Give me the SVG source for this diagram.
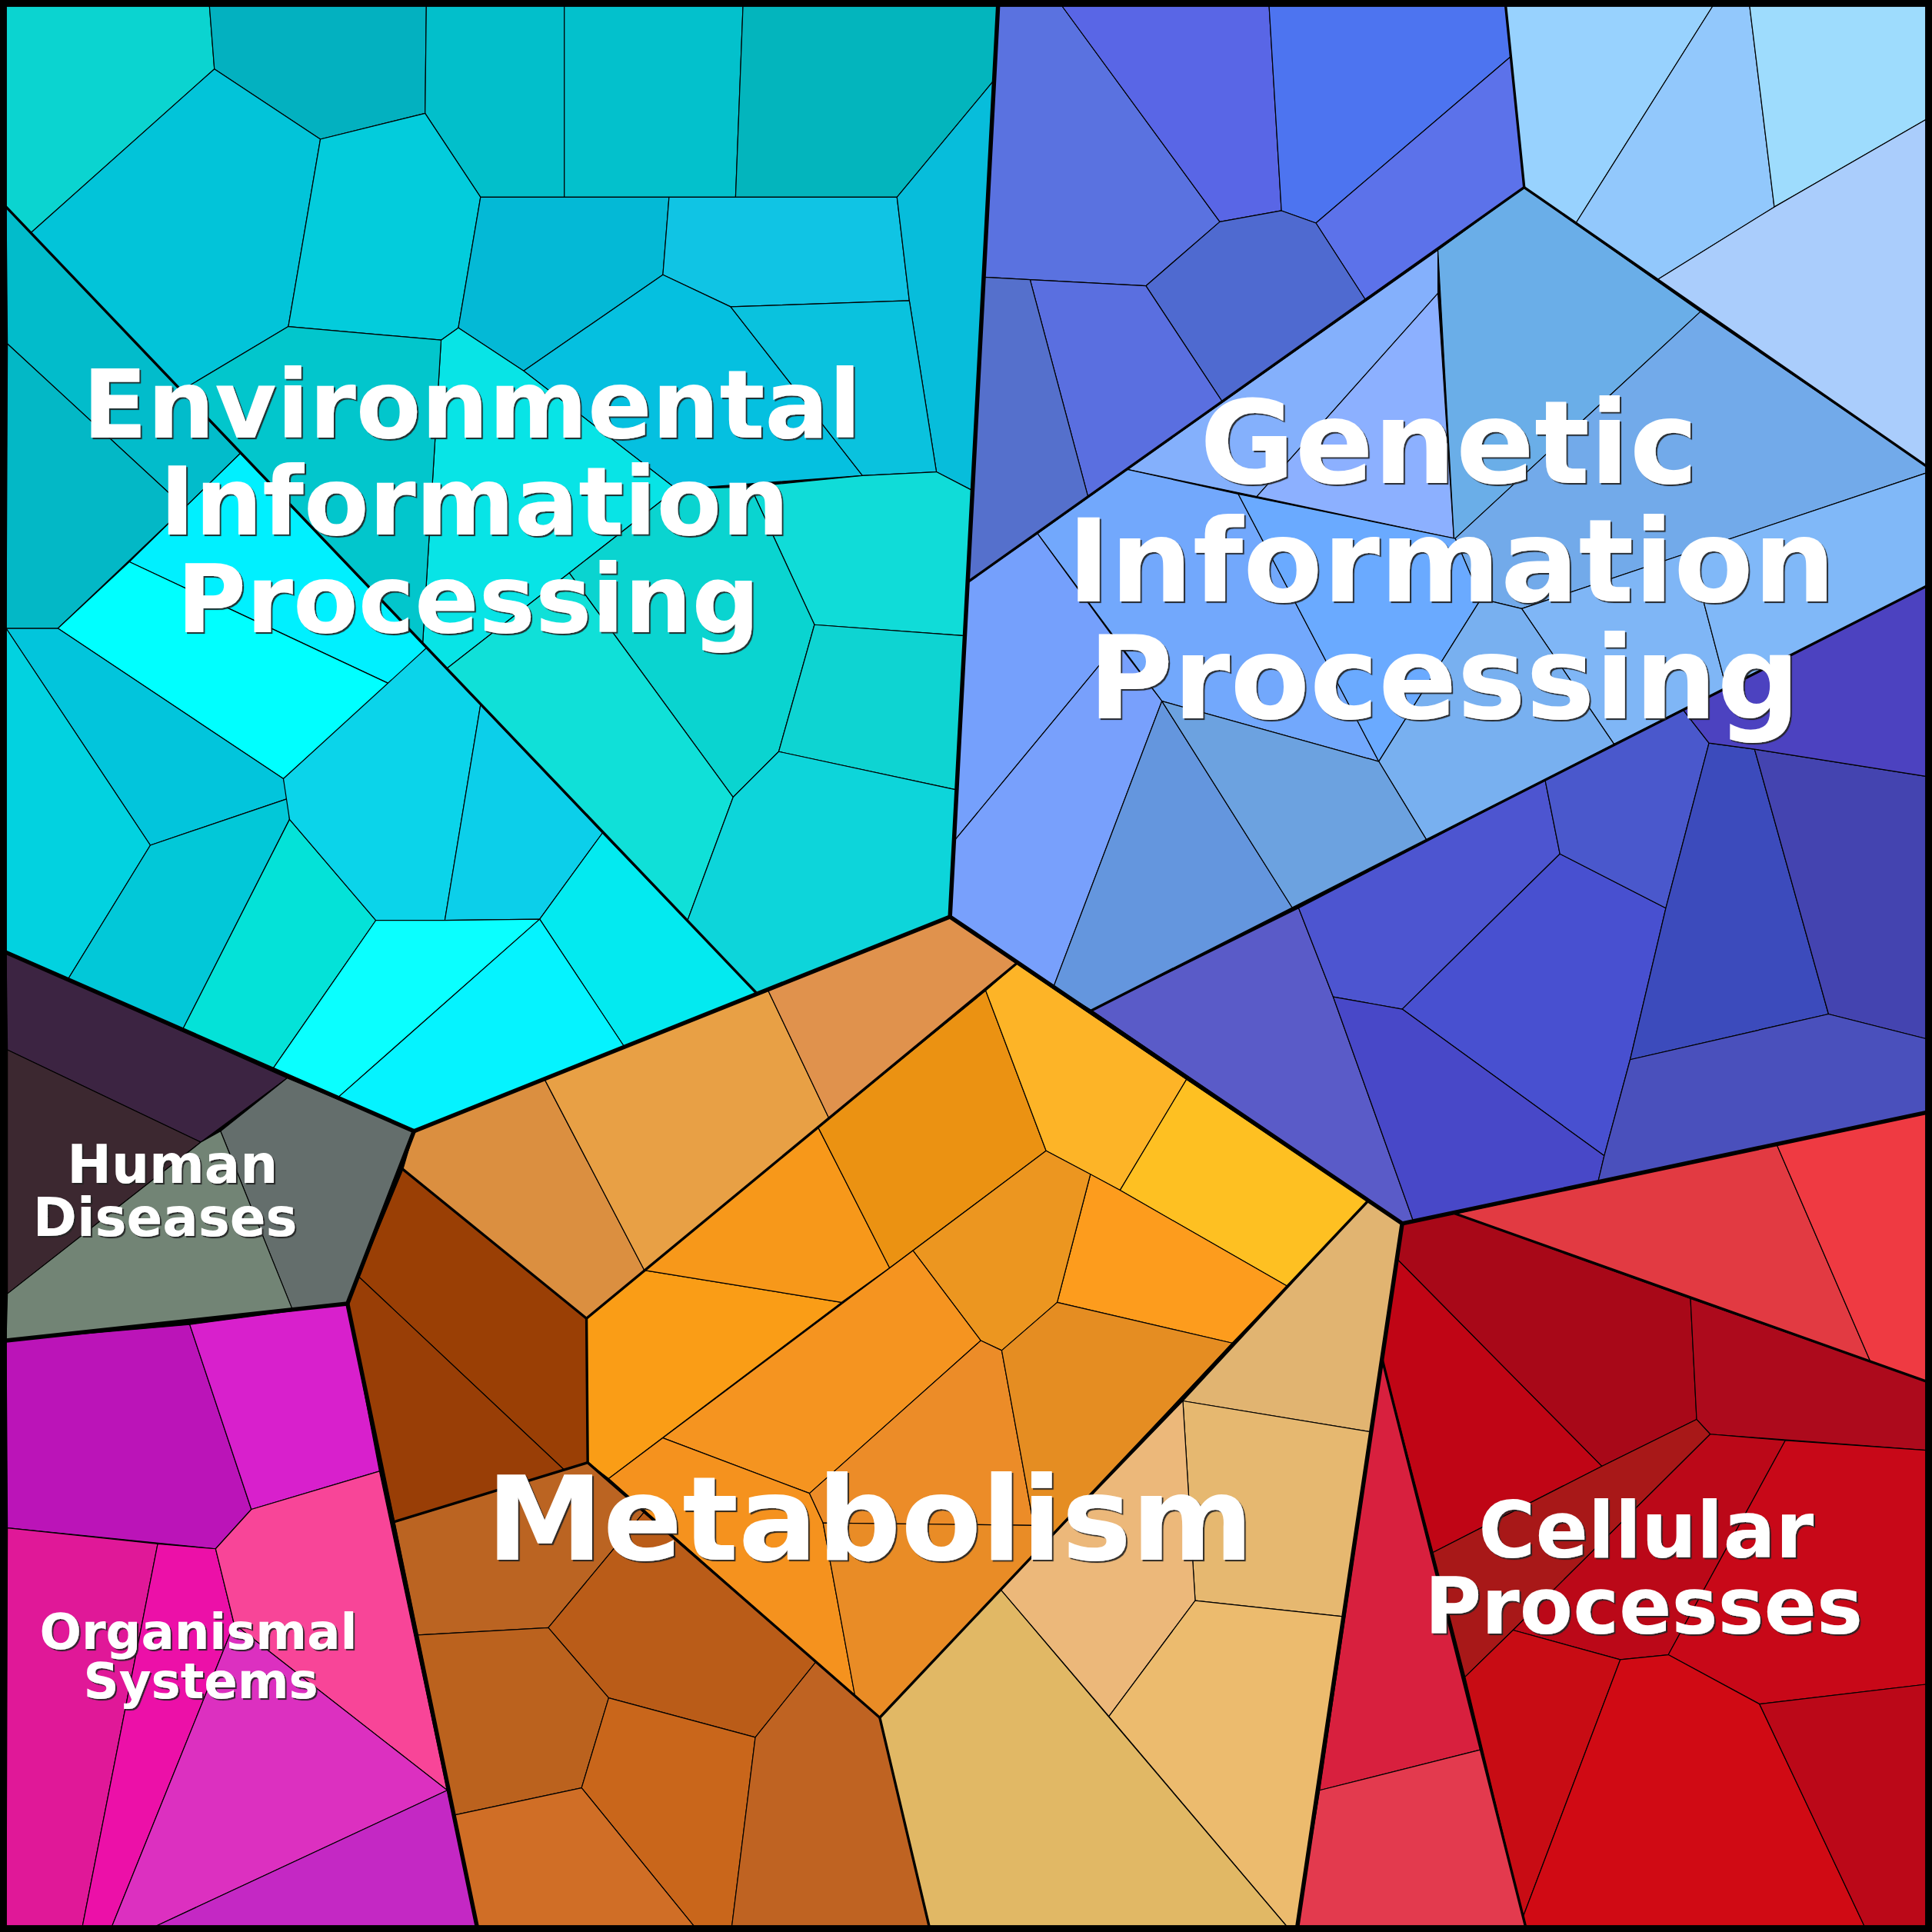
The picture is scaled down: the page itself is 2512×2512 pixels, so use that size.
<svg xmlns="http://www.w3.org/2000/svg" width="2512" height="2512" viewBox="0 0 2512 2512">
<defs>
<style>
.c{stroke:#000;stroke-width:0.75;stroke-linejoin:round}
.b2{fill:none;stroke:#000;stroke-width:2.1;stroke-linejoin:round;stroke-linecap:round}
.b1{fill:none;stroke:#000;stroke-width:3.4;stroke-linejoin:round;stroke-linecap:round}
.t{font-family:"DejaVu Sans","Liberation Sans",sans-serif;font-weight:bold;fill:#fff;text-anchor:middle;filter:url(#sh)}
</style>
<filter id="sh" x="-10%" y="-10%" width="120%" height="130%">
<feDropShadow dx="1.3" dy="1.3" stdDeviation="0.35" flood-color="#222" flood-opacity="0.9"/>
</filter>
</defs>
<rect width="2512" height="2512" fill="#000"/>
<g transform="scale(1.602041)">
<g id="environmental">
<polygon class="c" fill="#0bd4d0" points="5,5 170,5 174,56 25,189 5,168"/>
<polygon class="c" fill="#03b1c0" points="170,5 346,5 345,92 260,113 174,56"/>
<polygon class="c" fill="#02bfcb" points="346,5 458,5 458,160 390,160 345,92"/>
<polygon class="c" fill="#03c1cc" points="458,5 603,5 597,160 458,160"/>
<polygon class="c" fill="#03b5bd" points="603,5 810,5 806,66 728,160 597,160"/>
<polygon class="c" fill="#02c4d9" points="174,56 260,113 234,265 147,317 25,189"/>
<polygon class="c" fill="#03ccdc" points="260,113 345,92 390,160 372,266 358,276 234,265"/>
<polygon class="c" fill="#04b9d6" points="390,160 543,160 538,223 425,301 372,266"/>
<polygon class="c" fill="#10c4e4" points="543,160 728,160 738,244 593,249 538,223"/>
<polygon class="c" fill="#05c0e0" points="538,223 593,249 700,386 549,397 425,301"/>
<polygon class="c" fill="#08e4e6" points="358,276 372,266 425,301 549,397 362,543 343,523"/>
<polygon class="c" fill="#02c6cc" points="147,317 234,265 358,276 343,523"/>
<polygon class="c" fill="#07bddb" points="728,160 806,66 789,398 760,383 738,244"/>
<polygon class="c" fill="#0ac2de" points="593,249 738,244 760,383 700,386"/>
<polygon class="c" fill="#10dcd8" points="609,395 700,386 760,383 789,398 783,516 661,507"/>
<polygon class="c" fill="#0ad4d0" points="549,397 609,395 661,507 632,610 595,647 462,465"/>
<polygon class="c" fill="#10e0d8" points="362,543 462,465 595,647 558,747"/>
<polygon class="c" fill="#0ed4d2" points="661,507 783,516 776,641 632,610"/>
<polygon class="c" fill="#0dd5da" points="632,610 776,641 771,744 614,806 558,747 595,647"/>
<polygon class="c" fill="#02bccb" points="5,168 195,368 150,412 6,279"/>
<polygon class="c" fill="#03b8c6" points="6,279 150,412 47,510 5,510"/>
<polygon class="c" fill="#00f0ff" points="105,456 195,368 346,526 316,555"/>
<polygon class="c" fill="#00ffff" points="47,510 105,456 316,555 230,632"/>
<polygon class="c" fill="#02c5dc" points="5,510 47,510 230,632 234,648 122,686"/>
<polygon class="c" fill="#02d2e0" points="5,510 122,686 55,795 5,773"/>
<polygon class="c" fill="#02c8d8" points="122,686 234,648 235,665 148,836 55,795"/>
<polygon class="c" fill="#04e2d8" points="235,665 305,747 221,868 148,836"/>
<polygon class="c" fill="#0bd4ea" points="230,632 346,526 390,572 361,747 305,747 235,665"/>
<polygon class="c" fill="#0ccfea" points="390,572 489,676 438,746 361,747"/>
<polygon class="c" fill="#03eaf0" points="489,676 614,806 507,850 438,746"/>
<polygon class="c" fill="#0affff" points="305,747 361,747 438,746 274,891 221,868"/>
<polygon class="c" fill="#05f3ff" points="438,746 507,850 336,918 274,891"/>
</g>
<g id="genetic">
<polygon class="c" fill="#5a72e0" points="810,5 862,5 990,180 930,232 836,227 799,225"/>
<polygon class="c" fill="#5966e6" points="862,5 1030,5 1040,171 990,180"/>
<polygon class="c" fill="#4d74f0" points="1030,5 1222,5 1226,46 1068,181 1040,171"/>
<polygon class="c" fill="#5c72ea" points="1226,46 1237,152 1108,243 1068,181"/>
<polygon class="c" fill="#4f6ad0" points="990,180 1040,171 1068,181 1108,243 992,326 930,232"/>
<polygon class="c" fill="#5a6fe0" points="836,227 930,232 992,326 883,403"/>
<polygon class="c" fill="#5570cc" points="799,225 836,227 883,403 786,472"/>
<polygon class="c" fill="#98d2fe" points="1222,5 1390,5 1279,181 1237,152"/>
<polygon class="c" fill="#92c8fc" points="1390,5 1420,5 1440,168 1345,227 1279,181"/>
<polygon class="c" fill="#9edcfd" points="1420,5 1563,5 1563,97 1440,168"/>
<polygon class="c" fill="#aacdfc" points="1440,168 1563,97 1563,378 1345,227"/>
<polygon class="c" fill="#84b0fc" points="915,381 1167,203 1167,238 1020,403"/>
<polygon class="c" fill="#8cb0ff" points="1020,403 1167,238 1180,437"/>
<polygon class="c" fill="#6aaee8" points="1167,203 1237,152 1380,253 1181,437 1180,437"/>
<polygon class="c" fill="#72aaea" points="1181,437 1380,253 1563,378 1563,384 1235,494 1202,486"/>
<polygon class="c" fill="#7fb6f6" points="1235,494 1372,448 1401,558 1310,604"/>
<polygon class="c" fill="#80b8f8" points="1372,448 1563,384 1563,476 1401,558"/>
<polygon class="c" fill="#72a8fc" points="842,433 915,381 1005,401 1119,618 943,569"/>
<polygon class="c" fill="#6aaaff" points="1005,401 1181,437 1202,486 1119,618"/>
<polygon class="c" fill="#78b0f0" points="1202,486 1235,494 1310,604 1158,682 1119,618"/>
<polygon class="c" fill="#75a0fc" points="786,472 842,433 907,522 774,683"/>
<polygon class="c" fill="#78a0fc" points="774,683 907,522 943,569 855,801 771,744"/>
<polygon class="c" fill="#6496de" points="943,569 1049,737 886,820 855,801"/>
<polygon class="c" fill="#6ca2e0" points="943,569 1119,618 1158,682 1049,737"/>
<polygon class="c" fill="#5a5bc8" points="886,820 1054,737 1082,809 1147,991 1138,993"/>
<polygon class="c" fill="#4d55d0" points="1054,737 1254,633 1266,693 1138,819 1082,809"/>
<polygon class="c" fill="#4850d0" points="1266,693 1352,737 1323,860 1302,938 1138,819"/>
<polygon class="c" fill="#4848c8" points="1082,809 1138,819 1302,938 1297,959 1147,991"/>
<polygon class="c" fill="#4a58cc" points="1254,633 1366,576 1387,603 1352,737 1266,693"/>
<polygon class="c" fill="#3c4bbc" points="1387,603 1424,608 1484,823 1323,860 1352,737"/>
<polygon class="c" fill="#4444b0" points="1424,608 1563,630 1563,843 1484,823"/>
<polygon class="c" fill="#4a50bc" points="1323,860 1484,823 1563,843 1563,903 1297,959 1302,938"/>
<polygon class="c" fill="#4c42c0" points="1366,576 1563,476 1563,630 1424,608 1387,603"/>
</g>
<g id="metabolism">
<polygon class="c" fill="#db8f40" points="336,918 442,876 523,1031 476,1070 327,949"/>
<polygon class="c" fill="#e8a045" points="442,876 623,803 673,908 523,1031"/>
<polygon class="c" fill="#e0924d" points="623,803 771,744 825,782 673,908"/>
<polygon class="c" fill="#9a3f05" points="327,949 476,1070 477,1187 458,1193 291,1036"/>
<polygon class="c" fill="#993e06" points="291,1036 458,1193 320,1235 282,1058"/>
<polygon class="c" fill="#bb6422" points="320,1235 477,1187 523,1227 445,1321 339,1327"/>
<polygon class="c" fill="#ba5c18" points="523,1227 662,1349 613,1410 494,1378 445,1321"/>
<polygon class="c" fill="#bb621e" points="339,1327 445,1321 494,1378 472,1451 369,1473"/>
<polygon class="c" fill="#c9661b" points="494,1378 613,1410 594,1563 563,1563 472,1451"/>
<polygon class="c" fill="#d06e26" points="369,1473 472,1451 563,1563 387,1563"/>
<polygon class="c" fill="#bf6322" points="613,1410 662,1349 714,1394 754,1563 594,1563"/>
<polygon class="c" fill="#fa9d16" points="476,1070 523,1031 683,1057 494,1200 477,1187"/>
<polygon class="c" fill="#f7981a" points="523,1031 664,915 722,1029 683,1057"/>
<polygon class="c" fill="#eb9212" points="664,915 800,804 849,934 722,1029"/>
<polygon class="c" fill="#fdb427" points="800,804 825,782 963,876 909,966 849,934"/>
<polygon class="c" fill="#fec022" points="963,876 1110,975 1045,1044 909,966"/>
<polygon class="c" fill="#fd9c1d" points="909,966 1045,1044 1000,1090 858,1057 885,953"/>
<polygon class="c" fill="#ec9620" points="849,934 885,953 858,1057 813,1096 796,1088 741,1015"/>
<polygon class="c" fill="#f59420" points="538,1167 741,1015 796,1088 657,1212"/>
<polygon class="c" fill="#f5921e" points="494,1200 538,1167 657,1212 668,1236 694,1377"/>
<polygon class="c" fill="#ec8c28" points="657,1212 796,1088 813,1096 839,1238 668,1236"/>
<polygon class="c" fill="#e58d22" points="813,1096 858,1057 1000,1090 842,1259 839,1238"/>
<polygon class="c" fill="#e98c26" points="668,1236 839,1238 842,1259 714,1394 694,1377"/>
<polygon class="c" fill="#e1b471" points="1110,975 1138,993 1112,1162 960,1137"/>
<polygon class="c" fill="#e6b870" points="960,1137 1112,1162 1090,1312 970,1299"/>
<polygon class="c" fill="#ecb87a" points="960,1137 970,1299 900,1393 812,1290"/>
<polygon class="c" fill="#ecbb6e" points="970,1299 1090,1312 1053,1563 1044,1563 900,1393"/>
<polygon class="c" fill="#e1b865" points="714,1394 812,1290 1044,1563 754,1563"/>
</g>
<g id="human-diseases">
<polygon class="c" fill="#3c2442" points="5,773 233,875 163,927 6,852"/>
<polygon class="c" fill="#3c2830" points="6,852 163,927 6,1050"/>
<polygon class="c" fill="#646e6c" points="233,875 336,918 282,1058 237,1062 179,918"/>
<polygon class="c" fill="#728475" points="163,927 179,918 237,1062 5,1088 6,1050"/>
</g>
<g id="organismal-systems">
<polygon class="c" fill="#bb14b8" points="5,1088 154,1075 204,1225 175,1257 6,1240"/>
<polygon class="c" fill="#d820cc" points="154,1075 282,1058 308,1194 204,1225"/>
<polygon class="c" fill="#e01898" points="6,1240 128,1253 67,1563 5,1563"/>
<polygon class="c" fill="#ec10a8" points="128,1253 175,1257 190,1318 91,1563 67,1563"/>
<polygon class="c" fill="#f84598" points="204,1225 308,1194 363,1453 190,1318 175,1257"/>
<polygon class="c" fill="#dc30c0" points="190,1318 363,1453 127,1563 91,1563"/>
<polygon class="c" fill="#c428c4" points="363,1453 387,1563 127,1563"/>
</g>
<g id="cellular-processes">
<polygon class="c" fill="#e23a42" points="1181,985 1442,929 1518,1105"/>
<polygon class="c" fill="#ef3a42" points="1442,929 1563,903 1563,1121 1518,1105"/>
<polygon class="c" fill="#a80818" points="1138,993 1181,985 1372,1054 1377,1152 1300,1190 1134,1022"/>
<polygon class="c" fill="#ad0a1c" points="1372,1054 1563,1121 1563,1177 1388,1164 1377,1152"/>
<polygon class="c" fill="#c00515" points="1134,1022 1300,1190 1163,1260 1122,1104"/>
<polygon class="c" fill="#a81818" points="1163,1260 1300,1190 1377,1152 1388,1164 1228,1323 1189,1361"/>
<polygon class="c" fill="#bb0818" points="1388,1164 1449,1169 1354,1343 1315,1347 1228,1323"/>
<polygon class="c" fill="#c80818" points="1449,1169 1563,1177 1563,1367 1428,1383 1354,1343"/>
<polygon class="c" fill="#d8203e" points="1122,1104 1202,1420 1071,1453"/>
<polygon class="c" fill="#e33a4e" points="1071,1453 1202,1420 1238,1563 1053,1563"/>
<polygon class="c" fill="#c80c14" points="1189,1361 1228,1323 1315,1347 1236,1556"/>
<polygon class="c" fill="#d00a14" points="1315,1347 1354,1343 1428,1383 1513,1563 1238,1563 1236,1556"/>
<polygon class="c" fill="#bb0818" points="1428,1383 1563,1367 1563,1563 1513,1563"/>
</g>
<g id="boundaries">
<polyline class="b2" points="5,168 614,806"/>
<polyline class="b2" points="786,472 1237,152 1563,378"/>
<polyline class="b2" points="1222,5 1237,152"/>
<polyline class="b2" points="886,820 1563,476"/>
<polyline class="b2" points="327,949 476,1070 477,1187 714,1394 754,1563"/>
<polyline class="b2" points="476,1070 825,782"/>
<polyline class="b2" points="1110,975 714,1394"/>
<polyline class="b2" points="477,1187 320,1235"/>
<polyline class="b2" points="1181,985 1563,1121"/>
<polyline class="b2" points="1122,1104 1238,1563"/>
<polyline class="b1" points="810,5 771,744 336,918 5,773"/>
<polyline class="b1" points="336,918 282,1058 5,1088"/>
<polyline class="b1" points="282,1058 387,1563"/>
<polyline class="b1" points="771,744 1138,993 1053,1563"/>
<polyline class="b1" points="1138,993 1563,903"/>
<rect x="2.5" y="2.5" width="1563" height="1563" fill="none" stroke="#000" stroke-width="6"/>
</g>
<g id="labels">
<text class="t" font-size="77" x="383" y="355">Environmental</text>
<text class="t" font-size="77" x="385" y="434">Information</text>
<text class="t" font-size="77" x="380" y="513">Processing</text>
<text class="t" font-size="94" x="1176" y="392">Genetic</text>
<text class="t" font-size="94" x="1178" y="488">Information</text>
<text class="t" font-size="94" x="1172" y="583">Processing</text>
<text class="t" font-size="95" x="706" y="1266">Metabolism</text>
<text class="t" font-size="43" x="140" y="960">Human</text>
<text class="t" font-size="43" x="134" y="1003">Diseases</text>
<text class="t" font-size="40" x="161" y="1338">Organismal</text>
<text class="t" font-size="40" x="163" y="1378">Systems</text>
<text class="t" font-size="63" x="1336" y="1264">Cellular</text>
<text class="t" font-size="63" x="1334" y="1326">Processes</text>
</g>
</g>
</svg>
